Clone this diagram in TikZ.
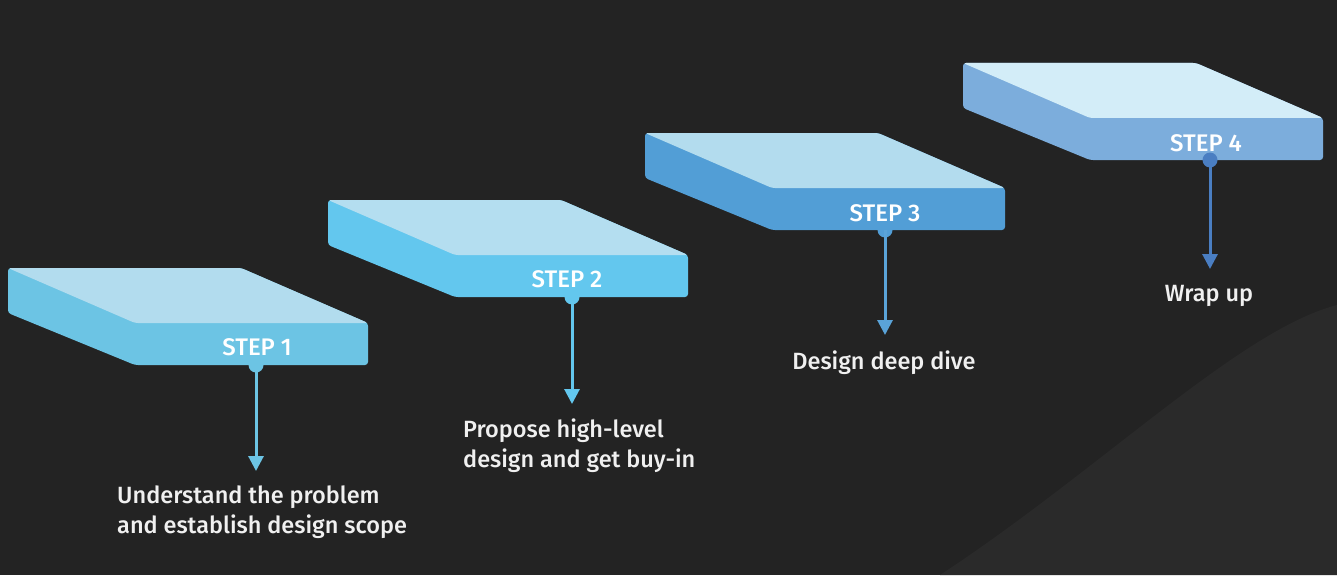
\documentclass[tikz,border=0pt]{standalone}
\usepackage{fontspec}
\setmainfont{Fira Sans Medium}
\usetikzlibrary{arrows.meta}

\definecolor{bgdark}{HTML}{232323}
\definecolor{bglight}{HTML}{2A2A2A}
\definecolor{onetop}{HTML}{B2DCEE}
\definecolor{onefront}{HTML}{6CC4E4}
\definecolor{twotop}{HTML}{B4DEF0}
\definecolor{twofront}{HTML}{63C7EE}
\definecolor{threetop}{HTML}{B3DCEE}
\definecolor{threefront}{HTML}{529ED6}
\definecolor{threearrow}{HTML}{5AA3D8}
\definecolor{fourtop}{HTML}{D3EDF8}
\definecolor{fourfront}{HTML}{7CADDC}
\definecolor{fourarrow}{HTML}{4A7EC2}

\tikzset{
  steplabel/.style={text=white, inner sep=0pt, font=\fontsize{24}{28}\selectfont},
  stepnote/.style={text=white!94!black, inner sep=0pt, align=left, font=\fontsize{23.5}{30}\selectfont},
  pinhead/.style={circle, inner sep=0pt, minimum size=15pt},
  pointer/.style={line width=3pt, -{Triangle[width=15pt,length=15pt]}},
}

\begin{document}
\begin{tikzpicture}[x=1pt,y=-1pt]

% Draw the background
\useasboundingbox (0,0) rectangle (1337,575);
\fill[bgdark] (0,0) rectangle (1337,575);
\fill[bglight] (1337,305) .. controls (1240,330) and (1100,470) .. (940,575) -- (1337,575) -- cycle;

% Draw the slabs
\fill[onefront, rounded corners=3pt] (8,268) -- (241,268) -- (368,323) -- (368,365) -- (135,365) -- (8,313) -- cycle;
\fill[onetop, rounded corners=3pt] (8,268) -- (241,268) -- (368,323) -- (135,323) -- cycle;
\fill[twofront, rounded corners=3pt] (328,200) -- (561,200) -- (688,255) -- (688,297) -- (455,297) -- (328,245) -- cycle;
\fill[twotop, rounded corners=3pt] (328,200) -- (561,200) -- (688,255) -- (455,255) -- cycle;
\fill[threefront, rounded corners=3pt] (645,133) -- (878,133) -- (1005,188) -- (1005,230) -- (772,230) -- (645,178) -- cycle;
\fill[threetop, rounded corners=3pt] (645,133) -- (878,133) -- (1005,188) -- (772,188) -- cycle;
\fill[fourfront, rounded corners=3pt] (963,63) -- (1196,63) -- (1323,118) -- (1323,160) -- (1090,160) -- (963,108) -- cycle;
\fill[fourtop, rounded corners=3pt] (963,63) -- (1196,63) -- (1323,118) -- (1090,118) -- cycle;

% Draw the step labels
\node[steplabel] (step1) at (257,347) {STEP 1};
\node[steplabel] (step2) at (567,279) {STEP 2};
\node[steplabel] (step3) at (885,213) {STEP 3};
\node[steplabel] (step4) at (1206,143) {STEP 4};

% Draw the pins
\node[pinhead, fill=onefront] (pin1) at (256,365) {};
\node[pinhead, fill=twofront] (pin2) at (572,297) {};
\node[pinhead, fill=threefront] (pin3) at (885,230) {};
\node[pinhead, fill=fourarrow] (pin4) at (1210,160) {};

% Draw the notes
\node[stepnote, anchor=north west] (note1) at (117,486) {Understand the problem\\and establish design scope};
\node[stepnote, anchor=north west] (note2) at (463,419) {Propose high-level\\design and get buy-in};
\node[stepnote] (note3) at (884,363) {Design deep dive};
\node[stepnote] (note4) at (1209,296) {Wrap up};

% Draw the arrows
\coordinate (tip1) at (256,471);
\coordinate (tip2) at (572,404);
\coordinate (tip3) at (885,335);
\coordinate (tip4) at (1210,269);
\draw[pointer, onefront] (pin1.center) -- (tip1);
\draw[pointer, twofront] (pin2.center) -- (tip2);
\draw[pointer, threearrow] (pin3.center) -- (tip3);
\draw[pointer, fourarrow] (pin4.center) -- (tip4);

\end{tikzpicture}
\end{document}
